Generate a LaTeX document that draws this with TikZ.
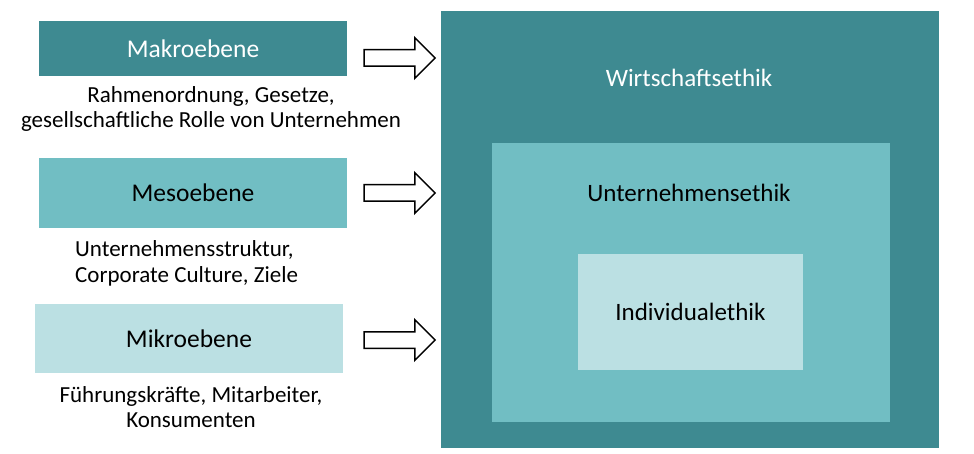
\documentclass[tikz,border=0pt]{standalone}
\usepackage{fontspec}
\setmainfont{Carlito}
\usetikzlibrary{shapes.arrows,positioning}
\definecolor{Dark}{HTML}{3E8A91}
\definecolor{Mid}{HTML}{71BEC3}
\definecolor{Light}{HTML}{BBE0E3}
\tikzset{ebene/.style={inner sep=0pt,minimum width=308pt,font=\fontsize{25.5}{28}\selectfont},
  ethikbox/.style={inner sep=0pt,font=\fontsize{25}{28}\selectfont},
  beschreibung/.style={inner sep=0pt,font=\fontsize{23}{25}\selectfont,text=black},
  blockpfeil/.style={single arrow,draw=black,fill=white,line width=1.5pt,
    inner xsep=0pt,inner ysep=7.5pt,minimum height=71pt,
    single arrow head extend=12pt,single arrow head indent=0pt}}

\begin{document}
\begin{tikzpicture}[x=1pt,y=-1pt]
    \useasboundingbox (0,0) rectangle (974,454);
    % left: the three levels
    \node[ebene,fill=Dark,text=white,minimum height=55pt] (makro) at (193,48.5) {Makroebene};
    \node[ebene,fill=Mid,minimum height=70pt] (meso) at (193,193) {Mesoebene};
    \node[ebene,fill=Light,minimum height=69pt] (mikro) at (189,338.5) {Mikroebene};
    \node[beschreibung,align=center,anchor=north] (makrotxt) at (211,86) {Rahmenordnung, Gesetze,\\gesellschaftliche Rolle von Unternehmen};
    \node[beschreibung,align=left,anchor=north west] (mesotxt) at (75,240) {Unternehmensstruktur,\\[1pt]Corporate Culture, Ziele};
    \node[beschreibung,align=center,anchor=north] (mikrotxt) at (191,386) {Führungskräfte, Mitarbeiter,\\Konsumenten};
    \node[blockpfeil] (pfeilmakro) at (395.5,58) {};
    \node[blockpfeil] (pfeilmeso) at (395.5,193) {};
    \node[blockpfeil] (pfeilmikro) at (395.5,340) {};
    % right: nested ethics
    \node[ethikbox,fill=Dark,minimum width=498pt,minimum height=437pt] (wirtschaft) at (690,229.5) {};
    \node[ethikbox,fill=Mid,minimum width=398pt,minimum height=279pt] (unternehmen) at (691,282.5) {};
    \node[ethikbox,fill=Light,minimum width=225pt,minimum height=116pt] (individual) at (690.5,312) {Individualethik};
    \node[ethikbox,text=white] (wirtschafttxt) at (689,78) {Wirtschaftsethik};
    \node[ethikbox] (unternehmentxt) at (689,193) {Unternehmensethik};
  \end{tikzpicture}
\end{document}
